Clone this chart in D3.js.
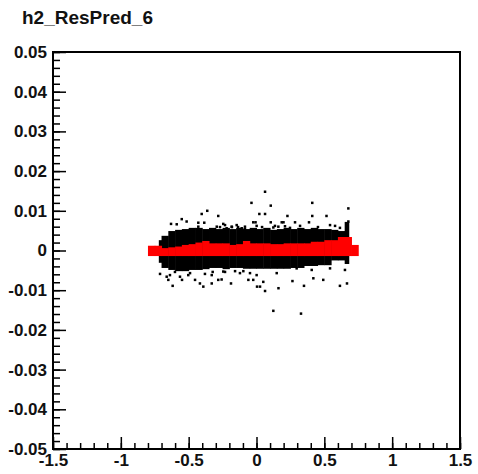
<!DOCTYPE html>
<html>
<head>
<meta charset="utf-8">
<script src="https://d3js.org/d3.v7.min.js"></script>
<style type="text/css">
  body { margin: 0; background: #fff; }
  text { font-family: "Liberation Sans", Arial, sans-serif; font-weight: bold; }
</style>
</head>
<body>
<svg id="chart" width="478" height="474"></svg>
<script>

const title = 'h2_ResPred_6';

const xTicks = [-1.5, -1, -0.5, 0, 0.5, 1, 1.5];
const xTickLabels = ['-1.5', '-1', '-0.5', '0', '0.5', '1', '1.5'];
const yTicks = [-0.05, -0.04, -0.03, -0.02, -0.01, 0, 0.01, 0.02, 0.03, 0.04, 0.05];
const yTickLabels = ['-0.05', '-0.04', '-0.03', '-0.02', '-0.01', '0', '0.01', '0.02', '0.03', '0.04', '0.05'];

// dense part of the scatter: bin edges in x, upper / lower y of the solid band
const coreEdges = [-0.72, -0.70, -0.65, -0.60, -0.55, -0.50, -0.45, -0.40, -0.35, -0.30, -0.25,
  -0.20, -0.15, -0.10, -0.05, 0, 0.05, 0.10, 0.15, 0.20, 0.25, 0.30, 0.35, 0.40, 0.45, 0.50,
  0.55, 0.60, 0.65, 0.68];
const coreTop = [0.0026, 0.0037, 0.0049, 0.0052, 0.0054, 0.0057, 0.0057, 0.0054, 0.0057, 0.0054,
  0.0057, 0.0054, 0.0057, 0.0054, 0.0057, 0.0054, 0.0057, 0.0052, 0.0054, 0.0057, 0.0054, 0.0057,
  0.0054, 0.0057, 0.0054, 0.0054, 0.0052, 0.0049, 0.0072];
const coreBot = [-0.0031, -0.0044, -0.0049, -0.0052, -0.0052, -0.0049, -0.0049, -0.0047, -0.0044,
  -0.0044, -0.0047, -0.0044, -0.0044, -0.0046, -0.0046, -0.0046, -0.0046, -0.0046, -0.0046, -0.0046,
  -0.0044, -0.0044, -0.0039, -0.0039, -0.0037, -0.0037, -0.0025, -0.0025, -0.0034];

// sparse entries outside the band
const pointsX = [0.063, -0.037, 0.105, 0.411, 0.677, -0.404, -0.363, -0.282, 0.021, 0.063, 0.228,
  0.411, 0.516, -0.630, -0.588, -0.551, -0.515, -0.429, -0.385, -0.024, -0.007, 0.105, 0.186, 0.199,
  0.284, 0.387, 0.542, 0.677, -0.429, -0.269, -0.232, -0.181, -0.136, -0.085, 0.041, 0.136, 0.247,
  0.321, 0.453, 0.579, 0.615,
  -0.293, -0.245, -0.220, -0.183, -0.146, -0.109, -0.085, 0.001, 0.124, 0.161, 0.210,
  0.124, 0.328, -0.618, 0.063, 0.162, 0.265, 0.350, 0.615, 0.667, -0.549, -0.453, -0.417, -0.392,
  -0.330, -0.257, -0.188, -0.060, -0.024, 0.004, 0.026, 0.419, 0.492, -0.662, -0.650, -0.564, -0.503,
  0.652, 0.087, 0.193, 0.296, 0.407, 0.542, -0.323, -0.232, -0.122, -0.158, -0.711, -0.638, -0.601,
  -0.490, -0.380,
  -0.330, -0.282, -0.245, -0.097, -0.048, 0.001, 0.050, 0.149];
const pointsY = [0.0148, 0.0120, 0.0113, 0.0120, 0.0106, 0.0092, 0.0100, 0.0087, 0.0092, 0.0092, 0.0087,
  0.0087, 0.0087, 0.0067, 0.0066, 0.0079, 0.0073, 0.0070, 0.0070, 0.0071, 0.0071, 0.0071, 0.0071, 0.0071,
  0.0071, 0.0071, 0.0064, 0.0073, 0.0060, 0.0059, 0.0064, 0.0059, 0.0059, 0.0054, 0.0059, 0.0062, 0.0057,
  0.0062, 0.0059, 0.0062, 0.0057,
  0.0060, 0.0067, 0.0056, 0.0060, 0.0064, 0.0056, 0.0060, 0.0062, 0.0058, 0.0060, 0.0061,
  -0.0152, -0.0159, -0.0089, -0.0102, -0.0095, -0.0077, -0.0089, -0.0089, -0.0083, -0.0074, -0.0074,
  -0.0083, -0.0091, -0.0083, -0.0073, -0.0083, -0.0074, -0.0074, -0.0091, -0.0091, -0.0070, -0.0074,
  -0.0066, -0.0074, -0.0066, -0.0062, -0.0049, -0.0039, -0.0039, -0.0045, -0.0049, -0.0045, -0.0054,
  -0.0054, -0.0057, -0.0052, -0.0059, -0.0062, -0.0054, -0.0057, -0.0059,
  -0.0062, -0.0074, -0.0053, -0.0052, -0.0057, -0.0062, -0.0079, -0.0057];

// profile (red): bin centres, mean and error
const profX = [-0.775, -0.725, -0.675, -0.625, -0.575, -0.525, -0.475, -0.425, -0.375, -0.325, -0.275,
  -0.225, -0.175, -0.125, -0.075, -0.025, 0.025, 0.075, 0.125, 0.175, 0.225, 0.275, 0.325, 0.375,
  0.425, 0.475, 0.525, 0.575, 0.625, 0.675, 0.725];
const profMean = [-0.0001, -0.0001, -0.0004, -0.0003, -0.0002, 0.0000, 0.0001, 0.0003, 0.0005, 0.0002,
  0.0002, 0.0002, 0.0000, 0.0001, 0.0005, 0.0002, 0.0002, 0.0002, 0.0001, 0.0001, 0.0002, 0.0002,
  0.0002, 0.0002, 0.0004, 0.0004, 0.0006, 0.0006, 0.0010, 0.0010, 0.0000];
const profErr = [0.0013, 0.0013, 0.0010, 0.0011, 0.0012, 0.0014, 0.0015, 0.0017, 0.0019, 0.0016,
  0.0016, 0.0016, 0.0014, 0.0015, 0.0019, 0.0016, 0.0016, 0.0016, 0.0015, 0.0015, 0.0016, 0.0016,
  0.0016, 0.0016, 0.0018, 0.0018, 0.0020, 0.0020, 0.0024, 0.0024, 0.0014];
const profBinWidth = 0.05;

const chart = d3.select('#chart');
const margin = { top: 52, right: 18, bottom: 25, left: 53 };
const width = 478 - margin.left - margin.right;
const height = 474 - margin.top - margin.bottom;

chart.append('rect').attr('width', 478).attr('height', 474).attr('fill', '#fff');

chart.append('text')
  .attr('x', 22)
  .attr('y', 24)
  .attr('font-size', 19)
  .attr('fill', '#111')
  .text(title);

const g = chart.append('g')
  .attr('transform', `translate(${margin.left} ${margin.top})`);

const x = d3.scaleLinear().domain([-1.5, 1.5]).range([0, width]);
const y = d3.scaleLinear().domain([-0.05, 0.05]).range([height, 0]);

// band
g.append('g').selectAll('rect')
  .data(coreTop)
  .enter().append('rect')
  .attr('x', (d, i) => x(coreEdges[i]))
  .attr('width', (d, i) => x(coreEdges[i + 1]) - x(coreEdges[i]) + 0.5)
  .attr('y', d => y(d))
  .attr('height', (d, i) => y(coreBot[i]) - y(d))
  .attr('fill', '#000');

// sparse points
g.append('g').selectAll('rect')
  .data(pointsX)
  .enter().append('rect')
  .attr('x', d => x(d) - 1.25)
  .attr('y', (d, i) => y(pointsY[i]) - 1.25)
  .attr('width', 2.5)
  .attr('height', 2.5)
  .attr('fill', '#000');

// profile
g.append('g').selectAll('rect')
  .data(profX)
  .enter().append('rect')
  .attr('x', d => x(d - profBinWidth / 2))
  .attr('width', d => x(d + profBinWidth / 2) - x(d - profBinWidth / 2) + 0.5)
  .attr('y', (d, i) => y(profMean[i] + profErr[i]))
  .attr('height', (d, i) => y(profMean[i] - profErr[i]) - y(profMean[i] + profErr[i]))
  .attr('fill', '#ff0000');

// minor ticks
g.append('g')
  .attr('transform', `translate(0 ${height})`)
  .call(d3.axisBottom(x).tickValues(x.ticks(30)).tickSize(-6).tickFormat(''))
  .call(a => a.select('.domain').remove())
  .call(a => a.selectAll('line').attr('stroke-width', 1.5));

g.append('g')
  .call(d3.axisLeft(y).tickValues(y.ticks(50)).tickSize(-7).tickFormat(''))
  .call(a => a.select('.domain').remove())
  .call(a => a.selectAll('line').attr('stroke-width', 1.5));

// major ticks with labels
g.append('g')
  .attr('transform', `translate(0 ${height})`)
  .call(d3.axisBottom(x).tickValues(xTicks).tickSize(-12).tickPadding(5)
    .tickFormat((d, i) => xTickLabels[i]))
  .call(a => a.select('.domain').remove())
  .call(a => a.selectAll('line').attr('stroke-width', 1.5))
  .call(a => a.selectAll('text').attr('font-size', 17).attr('fill', '#111')
    .style('font-family', '"Liberation Sans", Arial, sans-serif').style('font-weight', 'bold'));

g.append('g')
  .call(d3.axisLeft(y).tickValues(yTicks).tickSize(-13).tickPadding(6)
    .tickFormat((d, i) => yTickLabels[i]))
  .call(a => a.select('.domain').remove())
  .call(a => a.selectAll('line').attr('stroke-width', 1.5))
  .call(a => a.selectAll('text').attr('font-size', 17).attr('fill', '#111')
    .style('font-family', '"Liberation Sans", Arial, sans-serif').style('font-weight', 'bold'));

// frame
g.append('rect')
  .attr('width', width)
  .attr('height', height)
  .attr('fill', 'none')
  .attr('stroke', '#000')
  .attr('stroke-width', 2);

</script>
</body>
</html>
